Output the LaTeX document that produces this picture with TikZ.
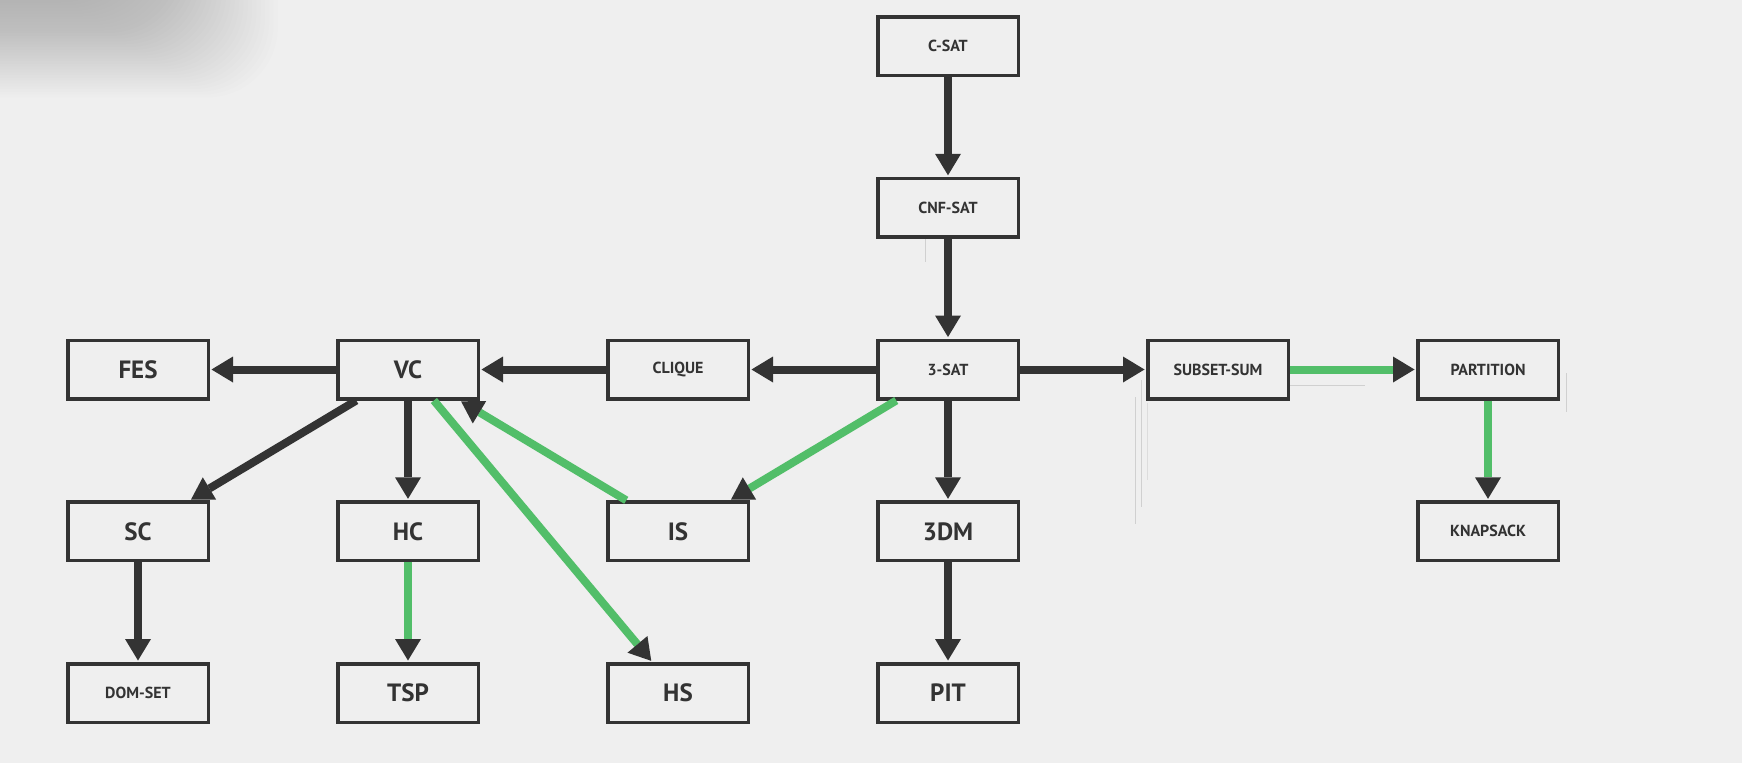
\documentclass[tikz,border=0pt]{standalone}
\usepackage{fontspec}
\setmainfont{PT Sans}
\usetikzlibrary{arrows.meta}
\definecolor{bg}{HTML}{EFEFEF}
\definecolor{dk}{HTML}{333333}
\definecolor{gr}{HTML}{52BE69}
\definecolor{shd}{HTML}{808080}
\definecolor{art}{HTML}{D0D0D0}
\begin{document}
\begin{tikzpicture}[x=1pt,y=-1pt,
  box/.style={draw=dk,line width=3.5pt,fill=bg,minimum width=140.5pt,minimum height=58.5pt,inner sep=0pt,text=dk,font=\bfseries\fontsize{16}{16}\selectfont},
  big/.style={font=\bfseries\fontsize{25}{25}\selectfont},
  tip/.style={-{Triangle[length=21.5pt,width=26pt,line width=0pt,color=dk]}},
  blk/.style={tip,draw=dk,line width=8pt,shorten >=1.5pt},
  grn/.style={tip,draw=gr,line width=8pt,shorten >=1.5pt},
  artline/.style={draw=art,line width=1pt},
  shadowlayer/.style={fill=shd,fill opacity=0.016,rounded corners=70pt}]
\fill[bg] (0,0) rectangle (1742,763);
\useasboundingbox (0,0) rectangle (1742,763);
% soft shadow in the top-left corner
\foreach \i in {0,...,39}
  \fill[shadowlayer] (-300,-300) rectangle ({110+4.3*\i},{-12+2.8*\i});
% faint artefact lines
\draw[artline] (1135,397) -- (1135,524);
\draw[artline] (1141.5,380) -- (1141.5,507);
\draw[artline,draw=art!60!bg] (1147,403) -- (1147,480);
\draw[artline] (1227,385) -- (1365,385);
\draw[artline] (1566.5,373) -- (1566.5,412);
\draw[artline] (925,214) -- (925,262);
% nodes
\node[box] (csat) at (948,46) {C-SAT};
\node[box] (cnf) at (948,207.8) {CNF-SAT};
\node[box,big] (fes) at (138,369.5) {FES};
\node[box,big] (vc) at (408,369.5) {VC};
\node[box] (clique) at (678,369.5) {CLIQUE};
\node[box] (sat3) at (948,369.5) {3-SAT};
\node[box] (subset) at (1218,369.5) {SUBSET-SUM};
\node[box] (part) at (1488,369.5) {PARTITION};
\node[box,big] (sc) at (138,531.3) {SC};
\node[box,big] (hc) at (408,531.3) {HC};
\node[box,big] (is) at (678,531.3) {IS};
\node[box,big] (dm3) at (948,531.3) {3DM};
\node[box] (knap) at (1488,531.3) {KNAPSACK};
\node[box] (dom) at (138,693) {DOM-SET};
\node[box,big] (tsp) at (408,693) {TSP};
\node[box,big] (hs) at (678,693) {HS};
\node[box,big] (pit) at (948,693) {PIT};
% connectors
\draw[blk] (csat) -- (cnf);
\draw[blk] (cnf) -- (sat3);
\draw[blk] (sat3) -- (clique);
\draw[blk] (clique) -- (vc);
\draw[blk] (vc) -- (fes);
\draw[blk] (sat3) -- (subset);
\draw[grn] (subset) -- (part);
\draw[grn] (part) -- (knap);
\draw[blk] (sat3) -- (dm3);
\draw[blk] (dm3) -- (pit);
\draw[grn] (sat3) -- (is);
\draw[grn] (is) -- (vc);
\draw[blk] (vc) -- (sc);
\draw[blk] (vc) -- (hc);
\draw[grn] (vc) -- (hs);
\draw[grn] (hc) -- (tsp);
\draw[blk] (sc) -- (dom);
\end{tikzpicture}
\end{document}
